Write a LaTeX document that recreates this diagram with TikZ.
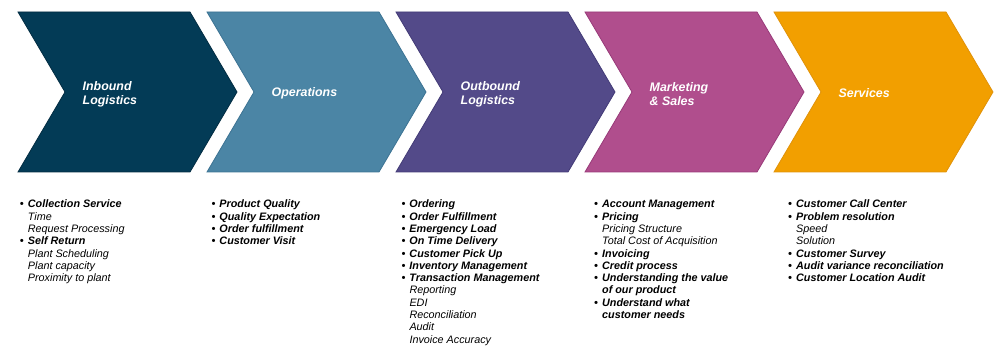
\documentclass[tikz,border=0pt]{standalone}
\usepackage{fontspec}
\setmainfont{Liberation Sans}
\definecolor{cA}{HTML}{033B56}\definecolor{cAd}{HTML}{022C42}
\definecolor{cB}{HTML}{4B85A5}\definecolor{cBd}{HTML}{3C7393}
\definecolor{cC}{HTML}{534A89}\definecolor{cCd}{HTML}{433B77}
\definecolor{cD}{HTML}{B04E8D}\definecolor{cDd}{HTML}{983A79}
\definecolor{cE}{HTML}{F29F00}\definecolor{cEd}{HTML}{E0920A}
\newcommand\vcpreb{\makebox[8pt][l]{\textbullet}}
\newcommand\vcpres{\hspace*{8pt}}
\newcommand\vcprec{\hspace*{8pt}}
\tikzset{
  chev/.style={line width=0.8pt},
  lab/.style={font=\fontsize{12.4}{14}\selectfont\bfseries\itshape, text=white, align=left, inner sep=0pt, anchor=west},
  itemb/.style={font=\fontsize{10.8}{12}\selectfont\bfseries\itshape, inner sep=0pt, anchor=base west},
  itemc/.style={itemb},
  items/.style={font=\fontsize{10.8}{12}\selectfont\itshape, inner sep=0pt, anchor=base west}
}
\begin{document}
\begin{tikzpicture}[x=1pt,y=-1pt]
\useasboundingbox (0,0) rectangle (997,358);
\foreach \xo/\fc/\dc in {18/cA/cAd, 207/cB/cBd, 396/cC/cCd, 585/cD/cDd, 774/cE/cEd}{
  \draw[chev, fill=\fc, draw=\dc] (\xo,12) -- (\xo+172,12) -- (\xo+219,92) -- (\xo+172,172) -- (\xo,172) -- (\xo+47,92) -- cycle;
}
\node[lab] (l1) at (82.5,94) {Inbound\\Logistics};
\node[lab] (l2) at (271.5,93.3) {Operations};
\node[lab] (l3) at (460.5,94) {Outbound\\Logistics};
\node[lab] (l4) at (649.5,94) {Marketing\\\& Sales};
\node[lab] (l5) at (838.5,93.3) {Services};
\foreach \kk/\txt [count=\i from 0] in {b/Collection Service, s/Time, s/Request Processing, b/Self Return, s/Plant Scheduling, s/Plant capacity, s/Proximity to plant}
  \node[item\kk] (ca\i) at (19.7,208+12.28*\i) {\csname vcpre\kk\endcsname\txt};
\foreach \kk/\txt [count=\i from 0] in {b/Product Quality, b/Quality Expectation, b/Order fulfillment, b/Customer Visit}
  \node[item\kk] (cb\i) at (211.3,208+12.28*\i) {\csname vcpre\kk\endcsname\txt};
\foreach \kk/\txt [count=\i from 0] in {b/Ordering, b/Order Fulfillment, b/Emergency Load, b/On Time Delivery, b/Customer Pick Up, b/Inventory Management, b/Transaction Management, s/Reporting, s/EDI, s/Reconciliation, s/Audit, s/Invoice Accuracy}
  \node[item\kk] (cc\i) at (401.3,208+12.28*\i) {\csname vcpre\kk\endcsname\txt};
\foreach \kk/\txt [count=\i from 0] in {b/Account Management, b/Pricing, s/Pricing Structure, s/Total Cost of Acquisition, b/Invoicing, b/Credit process, b/Understanding the value, c/of our product, b/Understand what, c/customer needs}
  \node[item\kk] (cd\i) at (594,208+12.28*\i) {\csname vcpre\kk\endcsname\txt};
\foreach \kk/\txt [count=\i from 0] in {b/Customer Call Center, b/Problem resolution, s/Speed, s/Solution, b/Customer Survey, b/Audit variance reconciliation, b/Customer Location Audit}
  \node[item\kk] (ce\i) at (788,208+12.28*\i) {\csname vcpre\kk\endcsname\txt};
\end{tikzpicture}
\end{document}
